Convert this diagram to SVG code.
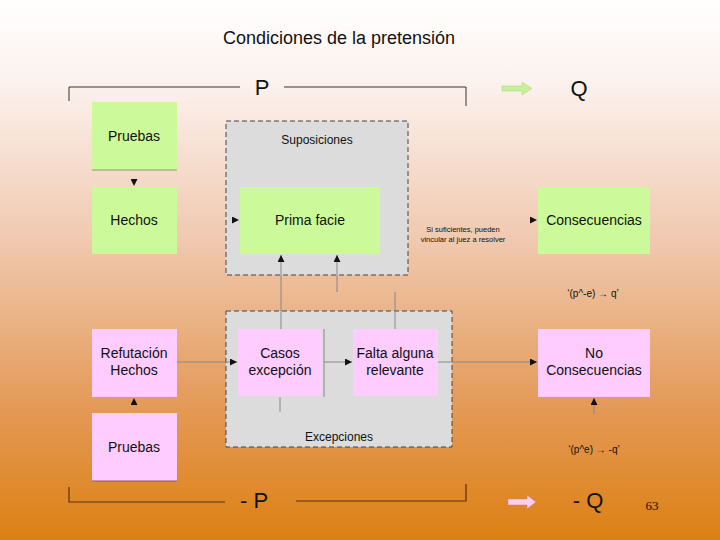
<svg xmlns="http://www.w3.org/2000/svg" width="720" height="540" viewBox="0 0 720 540">
<defs>
<linearGradient id="bg" x1="0" y1="0" x2="0" y2="1">
<stop offset="0" stop-color="#ffffff"/>
<stop offset="0.15" stop-color="#fcf2ee"/>
<stop offset="0.45" stop-color="#f0c8ae"/>
<stop offset="0.75" stop-color="#e49a58"/>
<stop offset="1" stop-color="#dc8012"/>
</linearGradient>
<marker id="ah" viewBox="0 0 10 10" refX="10" refY="5" markerWidth="7" markerHeight="7" markerUnits="userSpaceOnUse" orient="auto">
<path d="M0,0 L10,5 L0,10 z" fill="#111"/>
</marker>
<style>
text{font-family:"Liberation Sans",Arial,sans-serif;fill:#111}
.lbl{font-size:14px;text-anchor:middle}
.sm{font-size:12px;text-anchor:middle}
.tiny{font-size:7.5px;text-anchor:middle}
.big{font-size:22px;text-anchor:middle}
.g{fill:#ccfa9a}
.p{fill:#ffccff}
.cont{fill:#dcdcdc;stroke:#444;stroke-width:1;stroke-dasharray:5,3}
.br{fill:none;stroke:#333;stroke-width:1}
.brd{fill:none;stroke:#5a3010;stroke-width:1.2}
.c{fill:none;stroke:#888;stroke-width:1}
.cf{fill:none;stroke:#888;stroke-width:1;stroke-opacity:0}
</style>
</defs>
<rect x="0" y="0" width="720" height="540" fill="url(#bg)"/>
<text x="339" y="44" style="font-size:18px;text-anchor:middle">Condiciones de la pretensión</text>

<g id="bracket-top">
<path class="br" d="M69,101 V87 H240 M284,87 H466 V106"/>
<text x="262" y="95" class="big">P</text>
<path d="M502,86 H522 V82 L532,88.5 L522,95 V91 H502 z" fill="#c8f09a" stroke="#a8d080" stroke-width="0.5"/>
<text x="579" y="96" class="big">Q</text>
</g>

<g id="containers">
<g id="suposiciones">
<rect class="cont" x="226" y="121" width="182" height="154"/>
<text x="317" y="144" class="sm">Suposiciones</text>
</g>
<g id="excepciones">
<rect class="cont" x="226" y="311" width="226" height="136"/>
<text x="339" y="441" class="sm">Excepciones</text>
</g>
</g>

<g id="connectors">
<path class="cf" d="M134,170 V186" marker-end="url(#ah)"/>
<path class="cf" d="M177,220 V220 H239" marker-end="url(#ah)"/>
<path class="cf" d="M380,220 H537" marker-end="url(#ah)"/>
<path class="c" d="M281,329 V255" marker-end="url(#ah)"/>
<path class="c" d="M337,292 V255" marker-end="url(#ah)"/>
<path class="c" d="M395,292 V329"/>
<path class="c" d="M324,329 V397"/>
<path class="c" d="M280,397 V412"/>
<path class="c" d="M177,362 H237" marker-end="url(#ah)"/>
<path class="c" d="M324,362 H352" marker-end="url(#ah)"/>
<path class="c" d="M438,362 H537" marker-end="url(#ah)"/>
<path class="cf" d="M134,413 V398" marker-end="url(#ah)"/>
<path class="c" d="M594,414 V398" marker-end="url(#ah)"/>
</g>

<g id="pruebas-top">
<rect class="g" x="92" y="102" width="85" height="68"/>
<line x1="92" y1="170" x2="177" y2="170" stroke="#8a9a70" stroke-width="1"/>
<text x="134" y="141" class="lbl">Pruebas</text>
</g>
<g id="hechos">
<rect class="g" x="92" y="187" width="85" height="67"/>
<text x="134" y="225" class="lbl">Hechos</text>
</g>
<g id="prima-facie">
<rect class="g" x="240" y="187" width="140" height="67"/>
<text x="310" y="225" class="lbl">Prima facie</text>
</g>
<g id="nota">
<text x="463" y="232" class="tiny">Si suficientes, pueden</text>
<text x="463" y="242" class="tiny">vincular al juez a resolver</text>
</g>
<g id="consecuencias">
<rect class="g" x="538" y="187" width="112" height="67"/>
<text x="594" y="225" class="lbl">Consecuencias</text>
</g>
<text x="593" y="297" style="font-size:10px;text-anchor:middle">‘(p^-e) → q’</text>

<g id="refutacion">
<rect class="p" x="92" y="329" width="85" height="68"/>
<text x="134" y="358" class="lbl">Refutación</text>
<text x="134" y="375" class="lbl">Hechos</text>
</g>
<g id="casos">
<rect class="p" x="238" y="329" width="84" height="67"/>
<text x="280" y="358" class="lbl">Casos</text>
<text x="280" y="375" class="lbl">excepción</text>
</g>
<g id="falta">
<rect class="p" x="353" y="329" width="85" height="67"/>
<text x="395" y="358" class="lbl">Falta alguna</text>
<text x="395" y="375" class="lbl">relevante</text>
</g>
<g id="no-consecuencias">
<rect class="p" x="538" y="329" width="112" height="68"/>
<text x="594" y="358" class="lbl">No</text>
<text x="594" y="375" class="lbl">Consecuencias</text>
</g>
<g id="pruebas-bottom">
<rect class="p" x="92" y="413" width="85" height="68"/>
<line x1="92" y1="481" x2="177" y2="481" stroke="#8a5a60" stroke-width="1"/>
<text x="134" y="452" class="lbl">Pruebas</text>
</g>
<text x="594" y="453" style="font-size:10px;text-anchor:middle">‘(p^e) → -q’</text>

<g id="bracket-bottom">
<path class="brd" d="M69,487 V502 H225 M296,501 H466 V484"/>
<text x="254" y="508" class="big">- P</text>
<path d="M508,499 H527 V495 L536,502 L527,509 V505 H508 z" fill="#ffccf4" stroke="#c08080" stroke-width="0.5"/>
<text x="588" y="508" class="big">- Q</text>
<text x="652" y="510" style="font-family:'Liberation Serif',serif;font-size:13px;text-anchor:middle">63</text>
</g>
</svg>
